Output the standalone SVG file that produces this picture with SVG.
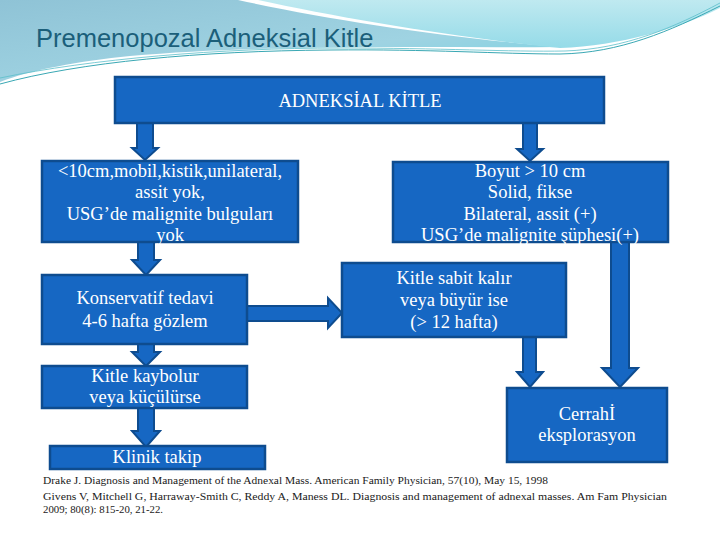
<svg xmlns="http://www.w3.org/2000/svg" width="720" height="540" viewBox="0 0 720 540">
<defs>
<linearGradient id="gA" x1="0" y1="0" x2="1" y2="1">
<stop offset="0" stop-color="#8fc3d6"/>
<stop offset="0.6" stop-color="#9fd3e2"/>
<stop offset="1" stop-color="#6fd3e2"/>
</linearGradient>
<linearGradient id="gB" x1="0" y1="0" x2="0" y2="1">
<stop offset="0" stop-color="#bfe9f0"/>
<stop offset="1" stop-color="#95dbe8"/>
</linearGradient>
<style>
.box{fill:#1667c3;stroke:#0e4c8f;stroke-width:2.5}
.arr{fill:#1667c3;stroke:#0e4c8f;stroke-width:2;stroke-linejoin:miter}
.t{font-family:"Liberation Serif","DejaVu Serif",serif;font-size:18.5px;fill:#ffffff;text-anchor:middle}
.ref{font-family:"Liberation Serif","DejaVu Serif",serif;font-size:10px;fill:#1a1a1a}
</style>
</defs>
<rect width="720" height="540" fill="#ffffff"/>
<g id="background">
<path d="M0,0 L238,0 C330,20 450,38 560,47 C420,48 260,44 130,56 C80,61 30,70 0,82 Z" fill="url(#gA)"/>
<path d="M258,0 L720,0 L720,8 C680,28 620,46 560,48 C460,38 340,18 258,0 Z" fill="url(#gB)"/>
<path d="M0,84 C80,62 200,51 330,50 C430,49 500,54 560,54 C620,53 670,31 720,6" fill="none" stroke="#3aa8b4" stroke-width="1"/>
<path d="M0,78 C90,59 220,48 340,48 C440,48 510,52 565,51 C625,49 675,27 720,3" fill="none" stroke="#5cbfca" stroke-width="0.8"/>
</g>
<text x="36" y="47" font-family="'Liberation Sans',Arial,sans-serif" font-size="25.5" fill="#1b5f7a">Premenopozal Adneksial Kitle</text>
<g id="connectors">
<polygon class="arr" points="137,123 153,123 153,148 158,148 145,160 132,148 137,148"/>
<polygon class="arr" points="523,123 537,123 537,149 543,149 530,161 517,149 523,149"/>
<polygon class="arr" points="138,242 154,242 154,260 160,260 146,275 132,260 138,260"/>
<polygon class="arr" points="138,344 154,344 154,352 160,352 146,366 132,352 138,352"/>
<polygon class="arr" points="138,408 154,408 154,431 160,431 146,447 132,431 138,431"/>
<polygon class="arr" points="247,306 328,306 328,298 342,313 328,328 328,321 247,321"/>
<polygon class="arr" points="523,337 536,337 536,372 543,372 530,387 517,372 523,372"/>
<polygon class="arr" points="611,242 629,242 629,368 638,368 620,387 602,368 611,368"/>
</g>
<g id="n-adneksial">
<rect class="box" x="115" y="77" width="489" height="46"/>
<text class="t" x="360" y="107" font-size="16">ADNEKSİAL KİTLE</text>
</g>
<g id="n-benign">
<rect class="box" x="42" y="161" width="256" height="81"/>
<text class="t" x="170" y="177">&lt;10cm,mobil,kistik,unilateral,</text>
<text class="t" x="170" y="198">assit yok,</text>
<text class="t" x="170" y="220">USG’de malignite bulguları</text>
<text class="t" x="170" y="241">yok</text>
</g>
<g id="n-malign">
<rect class="box" x="393" y="162" width="275" height="80"/>
<text class="t" x="530" y="177">Boyut &gt; 10 cm</text>
<text class="t" x="530" y="198">Solid, fikse</text>
<text class="t" x="530" y="220">Bilateral, assit (+)</text>
<text class="t" x="530" y="241">USG’de malignite şüphesi(+)</text>
</g>
<g id="n-konservatif">
<rect class="box" x="42" y="275" width="205" height="69"/>
<text class="t" x="145" y="304">Konservatif tedavi</text>
<text class="t" x="145" y="327">4-6 hafta gözlem</text>
</g>
<g id="n-sabit">
<rect class="box" x="342" y="263" width="224" height="74"/>
<text class="t" x="454" y="284">Kitle sabit kalır</text>
<text class="t" x="454" y="306">veya büyür ise</text>
<text class="t" x="454" y="328">(&gt; 12 hafta)</text>
</g>
<g id="n-kaybolur">
<rect class="box" x="42" y="366" width="205" height="42"/>
<text class="t" x="145" y="382">Kitle kaybolur</text>
<text class="t" x="145" y="403">veya küçülürse</text>
</g>
<g id="n-klinik">
<rect class="box" x="50" y="446" width="215" height="23"/>
<text class="t" x="157" y="463">Klinik takip</text>
</g>
<g id="n-cerrahi">
<rect class="box" x="507" y="388" width="160" height="74"/>
<text class="t" x="587" y="420">Cerrahİ</text>
<text class="t" x="587" y="441">eksplorasyon</text>
</g>
<g id="references">
<text class="ref" x="43" y="484" textLength="505" lengthAdjust="spacingAndGlyphs">Drake J. Diagnosis and Management of the Adnexal Mass. American Family Physician, 57(10), May 15, 1998</text>
<text class="ref" x="43" y="500" textLength="624" lengthAdjust="spacingAndGlyphs">Givens V, Mitchell G, Harraway-Smith  C, Reddy  A, Maness DL.  Diagnosis and management of adnexal masses. Am Fam Physician</text>
<text class="ref" x="43" y="513" textLength="120" lengthAdjust="spacingAndGlyphs">2009; 80(8): 815-20, 21-22.</text>
</g>
</svg>
